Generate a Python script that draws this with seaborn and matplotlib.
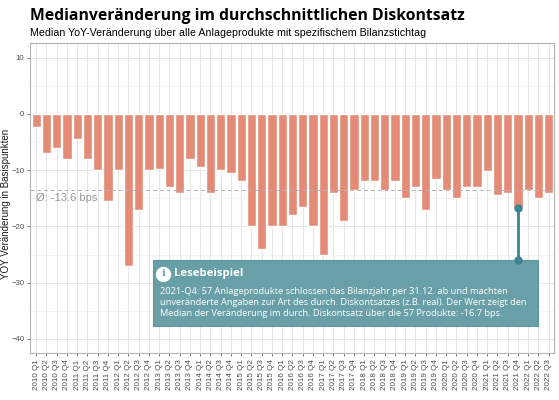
import numpy as np
import pandas as pd
import seaborn as sns
import matplotlib.pyplot as plt
from matplotlib.patches import Rectangle
from matplotlib.ticker import MultipleLocator

# quarters 2010 Q1 .. 2022 Q3
years = [str(y) for y in range(2010, 2023)]
quarters = [f"{y} Q{q}" for y in years for q in range(1, 5)][:51]

# median YoY change in basis points
values = [-2.4, -7.0, -6.0, -8.0, -4.5, -8.0, -10.0, -15.5,
          -10.0, -27.1, -17.0, -10.0, -9.8, -13.0, -14.0, -8.0,
          -9.5, -14.0, -10.0, -10.5, -12.0, -20.0, -24.0, -20.0,
          -20.0, -18.0, -16.5, -20.0, -25.0, -14.0, -19.0, -13.5,
          -12.0, -12.0, -13.5, -12.0, -15.0, -13.0, -17.0, -11.5,
          -13.5, -15.0, -13.0, -13.0, -10.2, -14.5, -14.0, -16.7,
          -13.5, -15.0, -14.0]

highlight = "2021 Q4"
mean_val = -13.6

df = pd.DataFrame({"quarter": quarters, "change": values})

sns.set_theme(style="white")
plt.rcParams['font.family'] = ['Liberation Sans', 'DejaVu Sans']

fig = plt.figure(figsize=(5.59, 4.0), dpi=100)
ax = fig.add_axes([0.0537, 0.1175, 0.937, 0.775])

ax.set_axisbelow(True)
sns.barplot(data=df, x="quarter", y="change", color="#e48b77", saturation=1,
            width=0.9, ax=ax)

# grid like ggplot theme_light
ax.yaxis.set_major_locator(MultipleLocator(10))
ax.yaxis.set_minor_locator(MultipleLocator(5))
ax.grid(True, which="major", color="#e6e6e6", linewidth=0.7)
ax.grid(True, which="minor", axis="y", color="#f0f0f0", linewidth=0.5)
ax.set_xlim(-0.6, len(quarters) - 0.5)
ax.set_ylim(-42.5, 12.6)
for s in ax.spines.values():
    s.set_color("#b3b3b3")
    s.set_linewidth(0.8)

ax.tick_params(axis="x", rotation=90, labelsize=5.8, colors="#4d4d4d",
               length=2.5, width=0.5, pad=2, bottom=True)
ax.tick_params(axis="y", labelsize=5.6, colors="#4d4d4d",
               length=2.5, width=0.5, pad=1.5, left=True)
ax.tick_params(which="minor", left=False)
ax.set_xlabel("")
ax.set_ylabel("YOY Veränderung in Basispunkten", fontsize=7.0, color="#1a1a1a")
ax.yaxis.set_label_coords(-0.0365, 0.48)

# mean line
ax.axhline(mean_val, color="#b3b3b3", linestyle=(0, (4, 3)), linewidth=0.7)
ax.text(0, mean_val - 1.4, f"Ø: {mean_val} bps", color="#999999", fontsize=8,
        ha="left", va="center")

# reading example
hi = quarters.index(highlight)
hv = values[hi]
box_top, box_bottom = -25.9, -37.7
teal = "#3f8291"
ax.add_patch(Rectangle((11.4, box_bottom), 49.0 - 11.4, box_top - box_bottom,
                       facecolor="#69a0a8", edgecolor="#5e959e", linewidth=0.8,
                       zorder=4))
ax.plot([hi, hi], [hv, box_top], color=teal, linewidth=2, zorder=5)
ax.plot([hi, hi], [hv, box_top], "o", color=teal, markersize=5, zorder=6)

ax.plot(12.4, -28.4, "o", color="white", markersize=10, zorder=6)
ax.text(12.4, -28.4, "i", color="#69a0a8", fontsize=7.5, fontweight="bold",
        ha="center", va="center", family="DejaVu Serif", zorder=7)
ax.text(13.4, -28.4, "Lesebeispiel", color="white", fontsize=8.2,
        fontweight="bold", family="Open Sans", ha="left", va="center", zorder=7)
body = ["2021-Q4: 57 Anlageprodukte schlossen das Bilanzjahr per 31.12. ab und machten",
        "unveränderte Angaben zur Art des durch. Diskontsatzes (z.B. real). Der Wert zeigt den",
        "Median der Veränderung im durch. Diskontsatz über die 57 Produkte: -16.7 bps."]
for i, line in enumerate(body):
    ax.text(12.1, -31.6 - 1.9 * i, line, color="white", fontsize=6.7,
            family="Open Sans", ha="left", va="center", zorder=7)

# titles
fig.text(30 / 559, 1 - 19.5 / 400, "Medianveränderung im durchschnittlichen Diskontsatz",
         fontsize=11.3, fontweight="bold", family="Open Sans", color="black",
         ha="left", va="baseline")
fig.text(30 / 559, 1 - 36.5 / 400,
         "Median YoY-Veränderung über alle Anlageprodukte mit spezifischem Bilanzstichtag",
         fontsize=7.7, color="black", ha="left", va="baseline")

fig.savefig("out.png", dpi=100)
